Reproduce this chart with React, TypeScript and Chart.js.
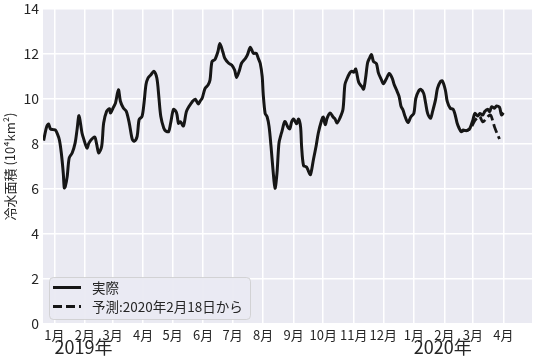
import React, { useEffect, useRef } from "react";
import { Chart, registerables } from "chart.js";

Chart.register(...registerables);

// Days counted from 2019-01-01
const actualDay = [
  -11, -8, -6, -4, -1, 1, 3, 5, 7, 9, 10, 11, 13, 15, 18, 21, 23, 25, 28, 30,
  33, 35, 38, 41, 43, 45, 48, 50, 53, 56, 57, 60, 62, 65, 67, 70, 73, 76, 79, 81,
  84, 86, 89, 91, 93, 95, 98, 101, 104, 106, 108, 111, 113, 116, 118, 121, 124, 126, 128, 131,
  134, 137, 140, 143, 146, 148, 150, 153, 156, 158, 160, 163, 166, 168, 171, 173, 177, 180, 183, 185,
  188, 190, 194, 196, 199, 202, 205, 207, 209, 211, 212, 214, 216, 218, 220, 222, 224, 226, 228, 230,
  231, 234, 237, 239, 241, 243, 246, 248, 250, 251, 253, 256, 258, 260, 263, 266, 268, 271, 273, 275,
  277, 280, 283, 285, 287, 290, 293, 295, 297, 300, 302, 304, 306, 309, 312, 314, 316, 318, 320, 322,
  324, 327, 329, 332, 334, 337, 340, 343, 345, 348, 350, 352, 354, 356, 359, 362, 365, 367, 370, 372,
  375, 377, 379, 382, 384, 387, 389, 392, 394, 397, 399, 402, 405, 407, 409, 411, 413, 415, 418, 420,
  422, 425, 427, 430, 432, 435, 437, 440, 442, 444, 447, 449, 452, 454, 456,
];
const actualValue = [
  8.15, 8.75, 8.89, 8.67, 8.64, 8.62, 8.45, 8.19, 7.6, 6.7, 6.05, 6.1, 6.56, 7.38, 7.6, 8.04, 8.64, 9.26, 8.49, 8.19,
  7.82, 8.04, 8.22, 8.31, 7.97, 7.6, 7.9, 8.93, 9.45, 9.57, 9.38, 9.64, 9.82, 10.41, 9.9, 9.6, 9.45, 8.93, 8.22, 8.12,
  8.34, 9.08, 9.23, 9.82, 10.64, 10.93, 11.08, 11.23, 10.93, 10.12, 9.23, 8.71, 8.58, 8.55, 8.92, 9.54, 9.39, 8.92, 8.99, 8.8,
  9.44, 9.69, 9.88, 9.99, 9.78, 9.91, 10.03, 10.47, 10.62, 10.84, 11.66, 11.76, 12.1, 12.47, 12.1, 11.81, 11.59, 11.51, 11.29, 10.96,
  11.29, 11.59, 11.81, 11.96, 12.3, 12.03, 12.03, 11.81, 11.59, 11.0, 10.25, 9.36, 9.21, 8.77, 7.88, 6.84, 6.03, 6.69, 8.03, 8.4,
  8.55, 9.0, 8.76, 8.67, 9.0, 9.11, 8.9, 9.11, 8.75, 7.9, 7.04, 6.98, 6.79, 6.64, 7.3, 7.97, 8.49, 9.0, 9.2, 8.86,
  9.16, 9.38, 9.2, 9.11, 8.93, 9.16, 9.53, 10.64, 10.89, 11.16, 11.23, 11.19, 11.33, 10.74, 10.56, 10.44, 10.93, 11.6, 11.82, 11.97,
  11.67, 11.57, 11.16, 10.86, 10.68, 10.89, 11.13, 10.93, 10.64, 10.34, 10.12, 9.67, 9.51, 9.23, 8.95, 9.21, 9.36, 10.03, 10.37, 10.43,
  10.25, 9.81, 9.36, 9.14, 9.44, 9.96, 10.47, 10.77, 10.8, 10.4, 9.88, 9.59, 9.54, 9.29, 8.92, 8.7, 8.55, 8.62, 8.59, 8.62,
  8.7, 9.07, 9.36, 9.24, 9.36, 9.29, 9.44, 9.54, 9.44, 9.66, 9.59, 9.69, 9.63, 9.29, 9.39,
];

const forecastDay = [413, 416, 419, 422, 424, 427, 430, 432, 435, 438, 441, 443, 445, 447, 450, 452];
const forecastValue = [8.55, 8.6, 8.6, 8.68, 8.8, 9.05, 9.18, 9.22, 8.98, 9.1, 9.25, 9.28, 9.05, 8.75, 8.42, 8.22];

const monthTickDay = [0, 31, 59, 90, 120, 151, 181, 212, 243, 273, 304, 334, 365, 396, 425, 456];
const monthTickLabel = [
  "1月", "2月", "3月", "4月", "5月", "6月", "7月", "8月", "9月", "10月", "11月", "12月",
  "1月", "2月", "3月", "4月",
];
const yearLabelDay = [0, 365];
const yearLabel = ["2019年", "2020年"];

const seriesLabels = ["実際", "予測:2020年2月18日から"];
const yTitle = "冷水面積 (10⁴km²)";

const FONT = "'Noto Sans CJK JP', 'Noto Sans', sans-serif";
const TEXT = "#262626";
const LINE = "#161616";

const bgPlugin = {
  id: "bgPlugin",
  beforeDraw(chart: any) {
    const { ctx, chartArea } = chart;
    ctx.save();
    ctx.fillStyle = "#ffffff";
    ctx.fillRect(0, 0, chart.width, chart.height);
    ctx.fillStyle = "#EAEAF2";
    ctx.fillRect(chartArea.left, chartArea.top, chartArea.right - chartArea.left, chartArea.bottom - chartArea.top);
    ctx.restore();
  },
};

const yearPlugin = {
  id: "yearPlugin",
  afterDraw(chart: any) {
    const { ctx } = chart;
    const xs = chart.scales.x;
    ctx.save();
    ctx.font = `18px ${FONT}`;
    ctx.fillStyle = TEXT;
    ctx.textAlign = "left";
    ctx.textBaseline = "middle";
    yearLabelDay.forEach((d, i) => {
      ctx.fillText(yearLabel[i], xs.getPixelForValue(d), 347);
    });
    ctx.restore();
  },
};

const legendPlugin = {
  id: "boxLegend",
  afterDraw(chart: any) {
    const { ctx, chartArea } = chart;
    const x = chartArea.left + 6;
    const y = chartArea.bottom - 47;
    const w = 201;
    const h = 42;
    ctx.save();
    ctx.beginPath();
    (ctx as any).roundRect(x + 0.5, y + 0.5, w, h, 4);
    ctx.fillStyle = "rgba(234,234,242,0.95)";
    ctx.fill();
    ctx.strokeStyle = "rgba(204,204,204,0.8)";
    ctx.lineWidth = 1;
    ctx.stroke();
    const rows = [y + 10.5, y + 29.5];
    chart.data.datasets.forEach((ds: any, i: number) => {
      ctx.beginPath();
      ctx.setLineDash(ds.borderDash || []);
      ctx.strokeStyle = ds.borderColor;
      ctx.lineWidth = ds.borderWidth;
      ctx.moveTo(x + 4, rows[i]);
      ctx.lineTo(x + 32, rows[i]);
      ctx.stroke();
      ctx.setLineDash([]);
      ctx.fillStyle = TEXT;
      ctx.font = `13.5px ${FONT}`;
      ctx.textAlign = "left";
      ctx.textBaseline = "middle";
      ctx.fillText(ds.label, x + 43, rows[i]);
    });
    ctx.restore();
  },
};

export default function App() {
  const ref = useRef<HTMLCanvasElement | null>(null);
  useEffect(() => {
    document.body.style.margin = "0";
    const canvas = ref.current;
    if (!canvas) return;
    const chart = new Chart(canvas, {
      type: "line",
      data: {
        datasets: [
          {
            label: seriesLabels[0],
            data: actualDay.map((d, i) => ({ x: d, y: actualValue[i] })),
            borderColor: LINE,
            borderWidth: 3,
            pointRadius: 0,
            tension: 0.3,
            fill: false,
          },
          {
            label: seriesLabels[1],
            data: forecastDay.map((d, i) => ({ x: d, y: forecastValue[i] })),
            borderColor: LINE,
            borderWidth: 2.8,
            borderDash: [9, 4],
            pointRadius: 0,
            tension: 0.3,
            fill: false,
          },
        ],
      },
      options: {
        animation: false,
        responsive: false,
        layout: { padding: { left: 0, right: 3, top: 9, bottom: 0 } },
        scales: {
          x: {
            type: "linear",
            min: -11.6,
            max: 485,
            afterBuildTicks: (s: any) => {
              s.ticks = monthTickDay.map((v) => ({ value: v }));
            },
            afterFit: (s: any) => {
              s.height = 34;
              s.paddingLeft = 0;
              s.paddingRight = 0;
            },
            ticks: {
              autoSkip: false,
              maxRotation: 0,
              padding: 3,
              color: TEXT,
              font: { family: FONT, size: 13 },
              callback: (_v: any, i: number) => monthTickLabel[i],
            },
            grid: { color: "#ffffff", lineWidth: 1.5, drawTicks: false },
            border: { display: false },
          },
          y: {
            min: 0,
            max: 14,
            afterFit: (s: any) => {
              s.width = 43;
              s.paddingTop = 0;
              s.paddingBottom = 0;
            },
            ticks: {
              stepSize: 2,
              padding: 4,
              color: TEXT,
              font: { family: FONT, size: 14 },
            },
            grid: { color: "#ffffff", lineWidth: 1.5, drawTicks: false },
            border: { display: false },
            title: {
              display: true,
              text: yTitle,
              color: TEXT,
              font: { family: FONT, size: 13 },
              padding: { top: 2, bottom: 0 },
            },
          },
        },
        plugins: {
          legend: { display: false },
          tooltip: { enabled: false },
        },
      },
      plugins: [bgPlugin, yearPlugin, legendPlugin],
    } as any);
    return () => chart.destroy();
  }, []);
  return (
    <div style={{ width: 535, height: 358 }}>
      <canvas ref={ref} width={535} height={358} style={{ display: "block", width: 535, height: 358 }} />
    </div>
  );
}
